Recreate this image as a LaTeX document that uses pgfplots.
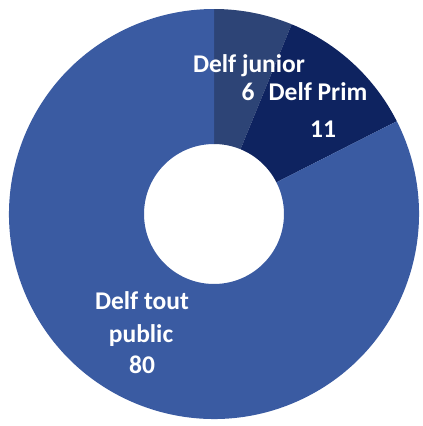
\documentclass[border=0pt]{standalone}
\usepackage{pgfplots}
\pgfplotsset{compat=1.18}
\usepackage{pgfplotstable}
\usepackage{fontspec}
\setmainfont{Carlito}
\definecolor{cTout}{RGB}{58,91,162}
\definecolor{cJun}{RGB}{45,68,118}
\definecolor{cPrim}{RGB}{14,35,96}
\pgfplotstableread{
label value
junior 6
prim 11
tout 80
}\donutdata
\pgfplotstablegetelem{0}{value}\of\donutdata \let\vJun\pgfplotsretval
\pgfplotstablegetelem{1}{value}\of\donutdata \let\vPrim\pgfplotsretval
\pgfplotstablegetelem{2}{value}\of\donutdata \let\vTout\pgfplotsretval
\pgfmathsetmacro{\vTot}{\vJun+\vPrim+\vTout}
\pgfmathsetmacro{\aA}{90}
\pgfmathsetmacro{\aB}{90-360*\vJun/\vTot}
\pgfmathsetmacro{\aC}{\aB-360*\vPrim/\vTot}
\pgfmathsetmacro{\aD}{90-360}
\def\cx{214}
\def\cy{212}
\def\Ro{205}
\def\Ri{70}
\newcommand{\donutwedge}[3]{%
  \fill[#3] (axis cs:{\cx+\Ro*cos(#1)},{\cy+\Ro*sin(#1)})
    arc[start angle=#1, end angle=#2, radius=\Ro]
    -- (axis cs:{\cx+\Ri*cos(#2)},{\cy+\Ri*sin(#2)})
    arc[start angle=#2, end angle=#1, radius=\Ri] -- cycle;}
\begin{document}
\begin{tikzpicture}
\begin{axis}[
  x=1bp, y=1bp,
  xmin=0, xmax=423, ymin=0, ymax=426,
  hide axis, clip=false,
  anchor=origin, at={(0,0)},
]
\donutwedge{\aA}{\aB}{cJun}
\donutwedge{\aB}{\aC}{cPrim}
\donutwedge{\aC}{\aD}{cTout}
\begin{scope}[every node/.style={text=white, inner sep=0pt, anchor=base, font=\bfseries\fontsize{25.5bp}{28bp}\selectfont}]
\node at (axis cs:249,354) {Delf junior};
\node at (axis cs:248,326) {6};
\node at (axis cs:318,326) {Delf Prim};
\node at (axis cs:323,289) {11};
\node at (axis cs:142,117) {Delf tout};
\node at (axis cs:141,84) {public};
\node at (axis cs:142,53) {80};
\end{scope}
\end{axis}
\pgfresetboundingbox
\path (0,0) rectangle (423bp,426bp);
\end{tikzpicture}
\end{document}
